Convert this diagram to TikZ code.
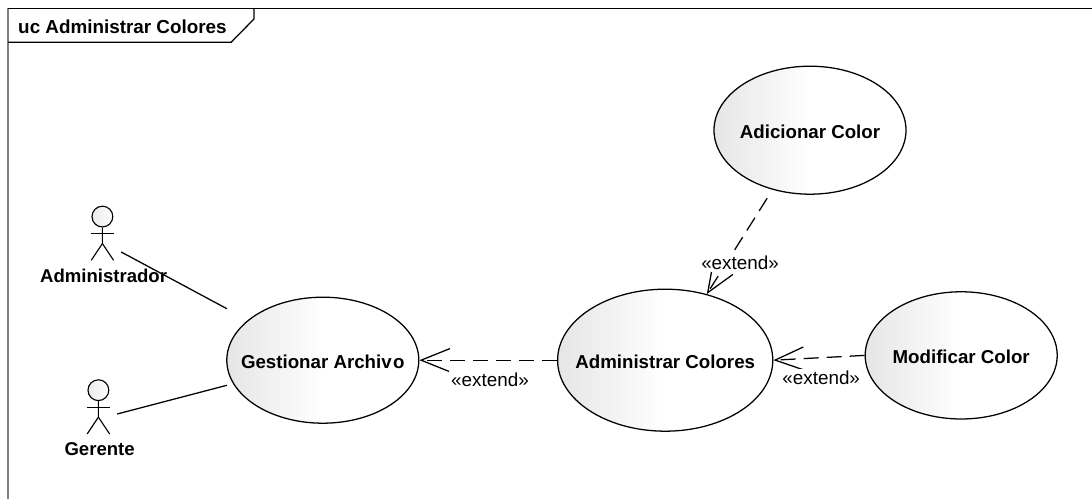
\documentclass[tikz,border=0pt]{standalone}
\usepackage{fontspec}
\setmainfont{Liberation Sans}
\usetikzlibrary{arrows.meta,shapes.geometric,calc}
\tikzset{
	usecase/.style={draw,ellipse,line width=0.9pt,inner ysep=0pt,inner xsep=-1.5cm,text height=12pt,left color=black!10,right color=white,middle color=white,font=\fontsize{13.3}{15}\selectfont\bfseries},
	actorhead/.style={draw,circle,line width=0.8pt,inner sep=0pt,minimum size=0.52cm,left color=black!8,right color=white},
	actorname/.style={inner sep=0pt,font=\fontsize{13.2}{15}\selectfont\bfseries},
	extend/.style={-{Straight Barb[length=0.72cm,width=0.58cm]},line width=0.9pt,dash pattern=on 0.375cm off 0.2cm},
	extendlabel/.style={fill=white,inner sep=1.5pt,font=\fontsize{13.4}{15}\selectfont}
}
\begin{document}
\begin{tikzpicture}
	\useasboundingbox (0,0) rectangle (27.3,12.475);
	% frame
	\node[inner sep=0pt,font=\fontsize{13.4}{15}\selectfont\bfseries] (title) at (3.06,11.81) {uc Administrar Colores};
	\draw[line width=1.1pt,black!50] (0.2,0) -- (0.2,12.27);
	\draw[line width=0.9pt] (0.2,12.27) -- (27.3,12.27);
	\draw[line width=0.9pt] (0.2,11.42) -- (5.78,11.42) -- (6.35,12.0) -- (6.35,12.27);
	% use cases
	\node[usecase,minimum width=4.8cm,minimum height=3.15cm] (gestionar)  at (8.07,3.47)   {Gestionar Archiv\kern1pt o};
	\node[usecase,minimum width=5.38cm,minimum height=3.55cm] (administrar) at (16.63,3.47) {Administrar Colores};
	\node[usecase,minimum width=4.8cm,minimum height=3.18cm] (modificar)  at (24.03,3.59)  {Modificar Color};
	\node[usecase,minimum width=4.8cm,minimum height=3.2cm] (adicionar)  at (20.25,9.22)   {Adicionar Color};
	% actors
	\node[actorhead] (administrador) at (2.56,7.06) {};
	\node[actorhead] (gerente) at (2.46,2.72) {};
	\foreach \u in {administrador,gerente}
	{	\draw[line width=0.8pt] (\u.south) -- ++(0,-0.4) coordinate (\u hip) -- ++(-0.28,-0.42);
		\draw[line width=0.8pt] (\u hip) -- ++(0.28,-0.42);
		\draw[line width=0.8pt] ($(\u.south)+(-0.29,-0.15)$) -- ++(0.58,0);
	}
	\node[actorname] (administradorname) at (2.59,5.58) {Administrador};
	\node[actorname] (gerentename) at (2.49,1.24) {Gerente};
	\coordinate (administradorhand) at (3.03,6.175);
	\coordinate (gerentehand) at (2.93,2.125);
	\draw[line width=0.9pt,shorten >=2.72cm] (administradorhand) -- (gestionar.center);
	\draw[line width=0.9pt,shorten >=2.48cm] (gerentehand) -- (gestionar.center);
	% extends
	\draw[extend] (administrar.west) -- (gestionar.east);
	\draw[extend,shorten <=0.25cm] (adicionar) -- (administrar);
	\draw[extend] (modificar.west) -- (administrar.east);
	\node[extendlabel] (extendone) at (12.25,2.98) {«extend»};
	\node[extendlabel] (extendtwo) at (18.5,5.9) {«extend»};
	\node[extendlabel] (extendthree) at (20.53,3.03) {«extend»};
\end{tikzpicture}
\end{document}
